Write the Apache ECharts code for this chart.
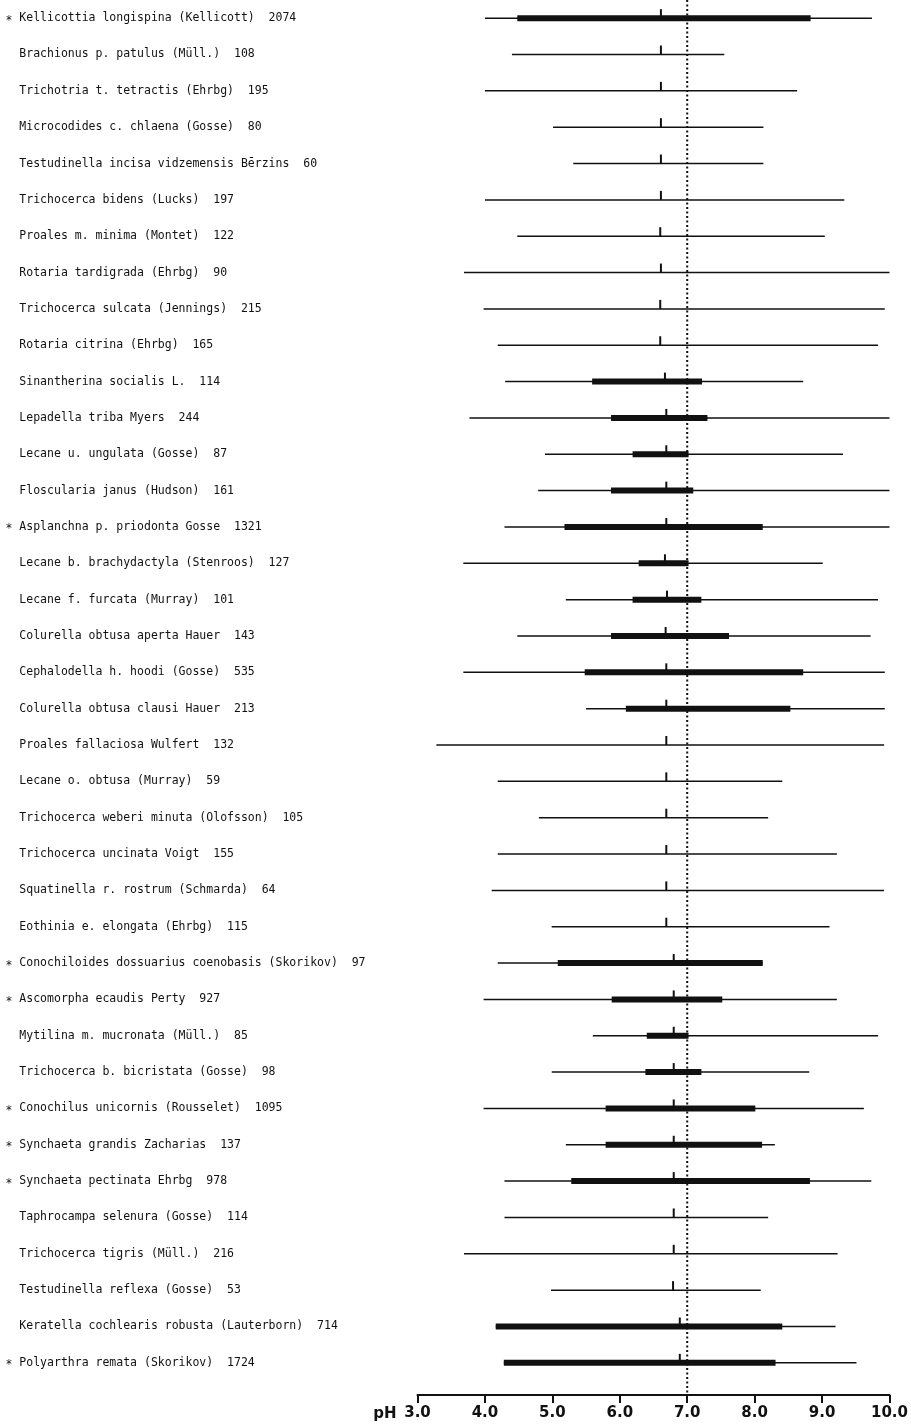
<!DOCTYPE html>
<html>
<head>
<meta charset="utf-8">
<script src="https://cdn.jsdelivr.net/npm/echarts@6/dist/echarts.min.js"></script>
<style>
  html, body { margin: 0; padding: 0; background: #ffffff; }
  #chart { width: 911px; height: 1427px; }
</style>
</head>
<body>
<div id="chart"></div>
<script>
// ---- data ----
const species = [
  "Kellicottia longispina (Kellicott)",
  "Brachionus p. patulus (Müll.)",
  "Trichotria t. tetractis (Ehrbg)",
  "Microcodides c. chlaena (Gosse)",
  "Testudinella incisa vidzemensis Bērzins",
  "Trichocerca bidens (Lucks)",
  "Proales m. minima (Montet)",
  "Rotaria tardigrada (Ehrbg)",
  "Trichocerca sulcata (Jennings)",
  "Rotaria citrina (Ehrbg)",
  "Sinantherina socialis L.",
  "Lepadella triba Myers",
  "Lecane u. ungulata (Gosse)",
  "Floscularia janus (Hudson)",
  "Asplanchna p. priodonta Gosse",
  "Lecane b. brachydactyla (Stenroos)",
  "Lecane f. furcata (Murray)",
  "Colurella obtusa aperta Hauer",
  "Cephalodella h. hoodi (Gosse)",
  "Colurella obtusa clausi Hauer",
  "Proales fallaciosa Wulfert",
  "Lecane o. obtusa (Murray)",
  "Trichocerca weberi minuta (Olofsson)",
  "Trichocerca uncinata Voigt",
  "Squatinella r. rostrum (Schmarda)",
  "Eothinia e. elongata (Ehrbg)",
  "Conochiloides dossuarius coenobasis (Skorikov)",
  "Ascomorpha ecaudis Perty",
  "Mytilina m. mucronata (Müll.)",
  "Trichocerca b. bicristata (Gosse)",
  "Conochilus unicornis (Rousselet)",
  "Synchaeta grandis Zacharias",
  "Synchaeta pectinata Ehrbg",
  "Taphrocampa selenura (Gosse)",
  "Trichocerca tigris (Müll.)",
  "Testudinella reflexa (Gosse)",
  "Keratella cochlearis robusta (Lauterborn)",
  "Polyarthra remata (Skorikov)"
];
const counts = [2074,108,195,80,60,197,122,90,215,165,114,244,87,161,1321,127,101,143,535,213,132,59,105,155,64,115,97,927,85,98,1095,137,978,114,216,53,714,1724];
const starred = [1,0,0,0,0,0,0,0,0,0,0,0,0,0,1,0,0,0,0,0,0,0,0,0,0,0,1,1,0,0,1,1,1,0,0,0,0,1];

const phMin  = [4.00,4.40,4.00,5.01,5.31,4.00,4.48,3.69,3.98,4.19,4.30,3.77,4.89,4.79,4.29,3.68,5.20,4.48,3.68,5.50,3.28,4.19,4.80,4.19,4.10,4.99,4.19,3.98,5.60,4.99,3.98,5.20,4.29,4.29,3.69,4.98,4.16,4.28];
const phLow  = [4.48,null,null,null,null,null,null,null,null,null,5.59,5.87,6.19,5.87,5.18,6.28,6.19,5.87,5.48,6.09,null,null,null,null,null,null,5.08,5.88,6.40,6.38,5.79,5.79,5.28,null,null,null,4.16,4.28];
const phHigh = [8.83,null,null,null,null,null,null,null,null,null,7.22,7.30,7.02,7.09,8.12,7.02,7.21,7.62,8.72,8.53,null,null,null,null,null,null,8.12,7.52,7.02,7.21,8.01,8.11,8.82,null,null,null,8.41,8.31];
const phMax  = [9.74,7.55,8.63,8.13,8.13,9.33,9.04,10.0,9.93,9.83,8.72,10.0,9.31,10.0,10.0,9.01,9.83,9.72,9.93,9.93,9.92,8.41,8.20,9.22,9.92,9.11,8.12,9.22,9.83,8.81,9.62,8.30,9.73,8.20,9.23,8.09,9.20,9.51];
const phMean = [6.61,6.61,6.61,6.61,6.61,6.61,6.60,6.61,6.60,6.60,6.67,6.69,6.69,6.69,6.69,6.67,6.70,6.68,6.69,6.69,6.69,6.69,6.69,6.69,6.69,6.69,6.80,6.80,6.80,6.80,6.80,6.80,6.80,6.80,6.80,6.79,6.89,6.89];

const axisMin = 3.0, axisMax = 10.0, axisStep = 1.0;
const neutralPH = 7.0;

// ---- build ----
const rows = species.map((s, i) => [i, phMin[i], phLow[i], phHigh[i], phMax[i], phMean[i]]);
const AXIS_OFFSET = 14;

const chart = echarts.init(document.getElementById('chart'), null, { renderer: 'canvas' });

function renderRange(params, api) {
  const i = api.value(0);
  const pMin = api.coord([api.value(1), i]);
  const pMax = api.coord([api.value(4), i]);
  const pMean = api.coord([api.value(5), i]);
  const y = pMin[1];
  const children = [{
    type: 'line',
    shape: { x1: pMin[0], y1: y, x2: pMax[0], y2: y },
    style: { stroke: '#111', lineWidth: 1.5 }
  }];
  const lo = phLow[i], hi = phHigh[i];
  if (lo !== null && hi !== null) {
    const a = api.coord([lo, i]), b = api.coord([hi, i]);
    children.push({
      type: 'rect',
      shape: { x: a[0], y: y - 3, width: b[0] - a[0], height: 6 },
      style: { fill: '#111' }
    });
  }
  children.push({
    type: 'line',
    shape: { x1: pMean[0], y1: y, x2: pMean[0], y2: y - 9 },
    style: { stroke: '#111', lineWidth: 2 }
  });
  return { type: 'group', children };
}

function renderNeutral(params, api) {
  const cs = params.coordSys;
  const x = api.coord([api.value(0), 0])[0];
  return {
    type: 'line',
    shape: { x1: x, y1: cs.y, x2: x, y2: cs.y + cs.height + AXIS_OFFSET },
    style: { stroke: '#111', lineWidth: 2, lineDash: [2, 2.5] }
  };
}

chart.setOption({
  backgroundColor: '#ffffff',
  animation: false,
  grid: { left: 417.5, right: 17.5, top: 0, height: 1381 },
  xAxis: {
    type: 'value',
    min: axisMin, max: axisMax, interval: axisStep,
    offset: AXIS_OFFSET,
    splitLine: { show: false },
    axisLine: { show: true, lineStyle: { color: '#111', width: 2 } },
    axisTick: { show: true, inside: false, length: 8, lineStyle: { color: '#111', width: 2 } },
    axisLabel: {
      formatter: v => v.toFixed(1),
      color: '#111', fontFamily: 'DejaVu Sans', fontWeight: 'bold', fontSize: 15, margin: 11
    },
    name: 'pH',
    nameLocation: 'start',
    nameGap: 21,
    nameTextStyle: { color: '#111', fontFamily: 'DejaVu Sans', fontWeight: 'bold', fontSize: 15, verticalAlign: 'top', padding: [12, 0, 0, 0] }
  },
  yAxis: {
    type: 'category',
    inverse: true,
    data: species,
    axisLine: { show: false },
    axisTick: { show: false },
    splitLine: { show: false },
    axisLabel: {
      interval: 0,
      align: 'left',
      margin: 412,
      color: '#111',
      fontFamily: 'DejaVu Sans Mono',
      fontSize: 11.5,
      formatter: (v, idx) => (starred[idx] ? '{s|*} ' : '  ') + v + '  ' + counts[idx],
      rich: { s: { fontFamily: 'DejaVu Sans Mono', fontSize: 11.5, color: '#111', padding: [5, 0, 0, 0] } }
    }
  },
  series: [
    {
      type: 'custom',
      renderItem: renderRange,
      encode: { x: [1, 4, 5], y: 0 },
      data: rows,
      clip: false
    },
    {
      type: 'custom',
      renderItem: renderNeutral,
      encode: { x: 0 },
      data: [[neutralPH]],
      clip: false,
      z: 3
    }
  ]
});
</script>
</body>
</html>
